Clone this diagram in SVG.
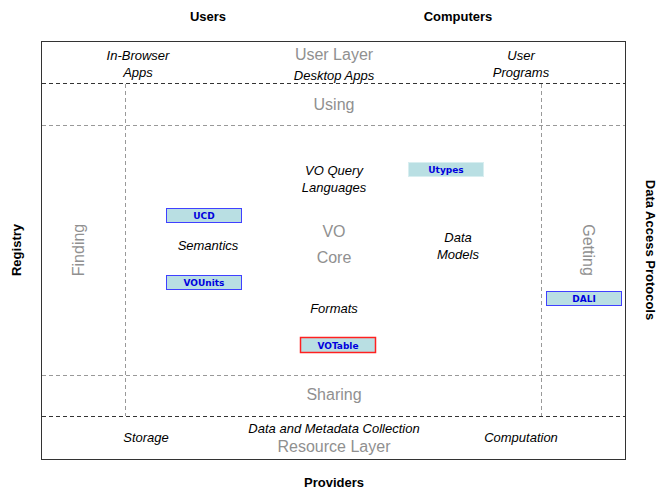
<svg xmlns="http://www.w3.org/2000/svg" width="667" height="500" viewBox="0 0 667 500">
<style>
text{font-family:"Liberation Sans",Arial,sans-serif}
.h{font-size:13px;font-weight:bold;fill:#000}
.g{font-size:16px;fill:#909090}
.i{font-size:13px;font-style:italic;fill:#000}
.b{font-family:"DejaVu Sans",Verdana,sans-serif;font-size:9px;font-weight:bold;fill:#0000dd}
.bx{fill:#b9dfe3;stroke:#4040ff;stroke-width:1}
.dk{stroke:#333;stroke-width:1;stroke-dasharray:4,3;fill:none}
.lt{stroke:#999;stroke-width:1;stroke-dasharray:4,3;fill:none}
</style>
<rect width="667" height="500" fill="#fff"/>
<g id="labels">
<text class="h" x="208" y="21" text-anchor="middle">Users</text>
<text class="h" x="458" y="21" text-anchor="middle">Computers</text>
<text class="h" x="334" y="487" text-anchor="middle">Providers</text>
<text class="h" transform="translate(21,250) rotate(-90)" text-anchor="middle">Registry</text>
<text class="h" transform="translate(646,250) rotate(90)" text-anchor="middle">Data Access Protocols</text>
</g>
<g id="frame">
<rect x="41.5" y="41.5" width="584" height="418" fill="none" stroke="#333" stroke-width="1"/>
</g>
<g id="connectors">
<line class="dk" x1="42" y1="83.5" x2="625" y2="83.5"/>
<line class="dk" x1="42" y1="416.5" x2="625" y2="416.5"/>
<line class="lt" x1="42" y1="125.5" x2="625" y2="125.5"/>
<line class="lt" x1="42" y1="375.5" x2="625" y2="375.5"/>
<line class="lt" x1="125.5" y1="84" x2="125.5" y2="416"/>
<line class="lt" x1="541.5" y1="84" x2="541.5" y2="416"/>
</g>
<g id="user-layer">
<text class="g" x="334" y="60" text-anchor="middle">User Layer</text>
<text class="i" x="334" y="80" text-anchor="middle">Desktop Apps</text>
<text class="i" x="138" y="60" text-anchor="middle">In-Browser</text>
<text class="i" x="138" y="77" text-anchor="middle">Apps</text>
<text class="i" x="521" y="60" text-anchor="middle">User</text>
<text class="i" x="521" y="77" text-anchor="middle">Programs</text>
</g>
<g id="using"><text class="g" x="334" y="110" text-anchor="middle">Using</text></g>
<g id="sharing"><text class="g" x="334" y="400" text-anchor="middle">Sharing</text></g>
<g id="finding"><text class="g" transform="translate(84,250) rotate(-90)" text-anchor="middle">Finding</text></g>
<g id="getting"><text class="g" transform="translate(583,250) rotate(90)" text-anchor="middle">Getting</text></g>
<g id="core">
<text class="g" x="334" y="237" text-anchor="middle">VO</text>
<text class="g" x="334" y="263" text-anchor="middle">Core</text>
</g>
<g id="query"><text class="i" x="334" y="175" text-anchor="middle">VO Query</text><text class="i" x="334" y="192" text-anchor="middle">Languages</text></g>
<g id="semantics"><text class="i" x="208" y="250" text-anchor="middle">Semantics</text></g>
<g id="models"><text class="i" x="458" y="242" text-anchor="middle">Data</text><text class="i" x="458" y="259" text-anchor="middle">Models</text></g>
<g id="formats"><text class="i" x="334" y="313" text-anchor="middle">Formats</text></g>
<g id="ucd"><rect class="bx" x="166.5" y="208.5" width="75" height="14"/><text class="b" x="204" y="219" text-anchor="middle">UCD</text></g>
<g id="vounits"><rect class="bx" x="166.5" y="275.5" width="75" height="14"/><text class="b" x="204" y="286" text-anchor="middle">VOUnits</text></g>
<g id="votable"><rect class="bx" x="300.5" y="337.5" width="75" height="15" style="stroke:#ff2020;stroke-width:1.5"/><text class="b" x="338" y="348.5" text-anchor="middle">VOTable</text></g>
<g id="utypes"><rect class="bx" x="408.5" y="162.5" width="75" height="14" style="stroke:#d8eef0"/><text class="b" x="446" y="173" text-anchor="middle">Utypes</text></g>
<g id="dali"><rect class="bx" x="546.5" y="291.5" width="75" height="14"/><text class="b" x="584" y="302" text-anchor="middle">DALI</text></g>
<g id="resource-layer">
<text class="i" x="334" y="433" text-anchor="middle">Data and Metadata Collection</text>
<text class="g" x="334" y="452" text-anchor="middle">Resource Layer</text>
<text class="i" x="146" y="442" text-anchor="middle">Storage</text>
<text class="i" x="521" y="442" text-anchor="middle">Computation</text>
</g>
</svg>
